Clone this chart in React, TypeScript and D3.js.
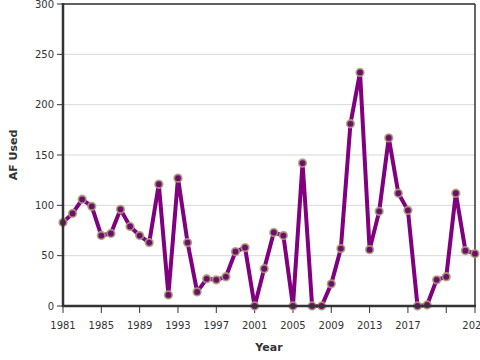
import React from "react";
import * as d3 from "d3";

const years: number[] = [
  1981, 1982, 1983, 1984, 1985, 1986, 1987, 1988, 1989, 1990,
  1991, 1992, 1993, 1994, 1995, 1996, 1997, 1998, 1999, 2000,
  2001, 2002, 2003, 2004, 2005, 2006, 2007, 2008, 2009, 2010,
  2011, 2012, 2013, 2014, 2015, 2016, 2017, 2018, 2019, 2020,
  2021, 2022, 2023, 2024,
];
const afUsed: number[] = [
  83, 92, 106, 99, 70, 72, 96, 79, 70, 63,
  121, 11, 127, 63, 14, 27, 26, 29, 54, 58,
  0, 37, 73, 70, 0, 142, 0, 0, 22, 57,
  181, 232, 56, 94, 167, 112, 95, 0, 1, 26,
  29, 112, 55, 52,
];
const yTicks: number[] = [0, 50, 100, 150, 200, 250, 300];
const xTicks: number[] = [1981, 1985, 1989, 1993, 1997, 2001, 2005, 2009, 2013, 2017, 2021, 2024];
const xTickLabels: string[] = ["1981", "1985", "1989", "1993", "1997", "2001", "2005", "2009", "2013", "2017", "", "2024"];

export default function App() {
  const W = 480, H = 360;
  const left = 63, right = 475, top = 4, bottom = 306;
  const x = d3.scaleLinear().domain([1981, 2024]).range([left, right]);
  const y = d3.scaleLinear().domain([0, 300]).range([bottom, top]);
  const data = years.map((yr, i) => ({ yr, v: afUsed[i] }));
  const line = d3.line<{ yr: number; v: number }>().x(d => x(d.yr)).y(d => y(d.v));
  const font = "DejaVu Sans, Verdana, sans-serif";
  return (
    <svg width={W} height={H} style={{ position: "absolute", left: 0, top: 0, background: "#fff" }} fontFamily={font}>
      {yTicks.filter(t => t > 0).map(t => (
        <line key={"g" + t} x1={left} x2={right} y1={y(t)} y2={y(t)} stroke="#d9d9d9" strokeWidth={1} />
      ))}
      <line x1={left} x2={right} y1={top} y2={top} stroke="#333" strokeWidth={1.5} />
      <line x1={right} x2={right} y1={top} y2={bottom} stroke="#333" strokeWidth={1.5} />
      {yTicks.map(t => (
        <g key={"y" + t}>
          <line x1={left - 6} x2={left} y1={y(t)} y2={y(t)} stroke="#333" strokeWidth={1} />
          <text x={left - 9} y={y(t)} dy="0.35em" textAnchor="end" fontSize={10} fill="#333">{t}</text>
        </g>
      ))}
      {xTicks.map((t, i) => (
        <g key={"x" + t}>
          <line x1={x(t)} x2={x(t)} y1={bottom} y2={bottom + 7} stroke="#333" strokeWidth={1} />
          <text x={x(t)} y={bottom + 23} textAnchor="middle" fontSize={10} fill="#333">{xTickLabels[i]}</text>
        </g>
      ))}
      <path d={line(data) ?? ""} fill="none" stroke="#800080" strokeWidth={4} strokeLinejoin="round" />
      {data.map(d => (
        <circle key={d.yr} cx={x(d.yr)} cy={y(d.v)} r={3.8} fill="#6a0f6a" stroke="#b0a17a" strokeOpacity={0.85} strokeWidth={1.8} />
      ))}
      <line x1={left} x2={left} y1={top - 1} y2={bottom + 1} stroke="#333" strokeWidth={2.5} />
      <line x1={left - 1} x2={right + 1} y1={bottom} y2={bottom} stroke="#333" strokeWidth={2.5} />
      <text x={269} y={351} textAnchor="middle" fontSize={11} fontWeight="bold" fill="#333">Year</text>
      <text transform={`translate(17,155) rotate(-90)`} textAnchor="middle" fontSize={11} fontWeight="bold" fill="#333">AF Used</text>
    </svg>
  );
}
